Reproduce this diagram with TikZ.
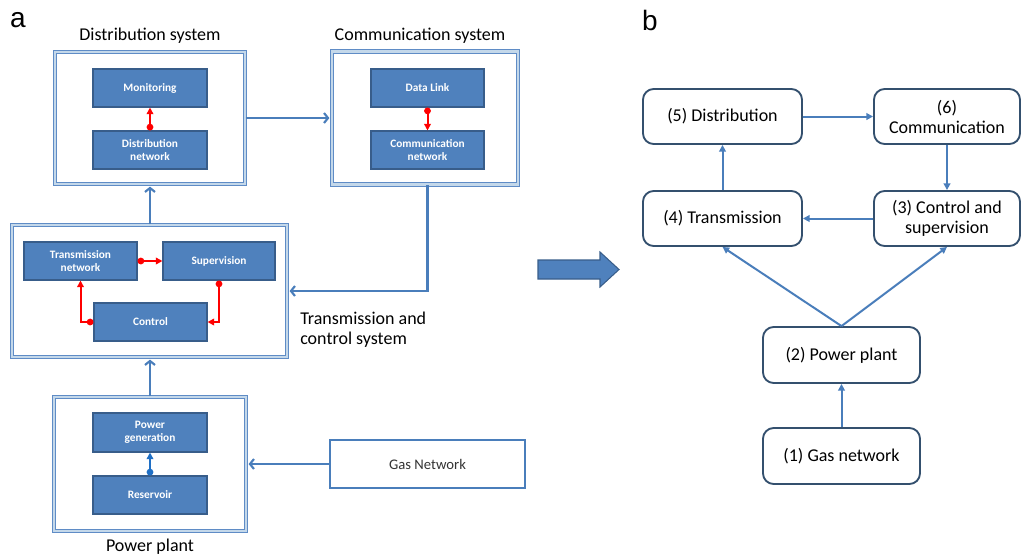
\documentclass[tikz,border=0pt]{standalone}
\usepackage{fontspec}
\setmainfont{Carlito}
\newfontfamily\arialf{Liberation Sans}
\usetikzlibrary{arrows.meta,calc}
\newdimen\px \px=0.75pt
\definecolor{ofblue}{HTML}{4F81BD}
\definecolor{ofdark}{HTML}{385D8A}
\definecolor{frameblue}{HTML}{5F8CC6}
\definecolor{framefill}{HTML}{C4D8EA}
\definecolor{arrblue}{HTML}{4A7EBB}
\definecolor{rbord}{HTML}{34506E}
\definecolor{gasbord}{HTML}{4A7EBB}
\definecolor{darkarr}{HTML}{1F6FC5}
\tikzset{
  inbox/.style={draw=ofdark, fill=ofblue, line width=0.8pt, text=white, font=\fontsize{8.5}{10}\selectfont\bfseries, align=center, inner sep=0pt},
  frame/.style={draw=frameblue, double=framefill, double distance=1.6pt, line width=0.9pt, inner sep=0pt},
  rbox/.style={draw=rbord, line width=1.4pt, rounded corners=8pt, fill=white, font=\fontsize{13.5}{15}\selectfont, align=center, inner sep=0pt},
  barr/.style={draw=arrblue, line width=1.5pt, -{Triangle[length=5pt,width=5pt]}},
  larr/.style={draw=arrblue, line width=2pt, -{Straight Barb[length=3pt,width=7.5pt,line width=1.6pt]}},
  rarr/.style={draw=red, line width=1.5pt, {Circle[length=5pt,width=5pt]}-{Triangle[length=5pt,width=5pt]}},
  title/.style={font=\fontsize{13.5}{15}\selectfont, inner sep=0pt}
}
\begin{document}
\begin{tikzpicture}[x=0.75pt,y=-0.75pt]
\useasboundingbox (0,0) rectangle (1022,558);
% labels
\node[font=\arialf\fontsize{21}{24}\selectfont, inner sep=0pt] (la) at (18,20) {a};
\node[font=\arialf\fontsize{21}{24}\selectfont, inner sep=0pt] (lb) at (650,20) {b};
\node[title] (tdist) at (150,36) {Distribution system};
\node[title] (tcomm) at (420,36) {Communication system};
\node[title] (tpow) at (150,547) {Power plant};
\node[title, align=left, anchor=north west] (ttrans) at (300,312) {Transmission and\\control system};
% outer frames
\node[frame, minimum width=190\px, minimum height=132\px] (dsys) at (150,118) {};
\node[frame, minimum width=186\px, minimum height=133\px] (csys) at (425,118) {};
\node[frame, minimum width=275\px, minimum height=132\px] (tsys) at (149.5,291) {};
\node[frame, minimum width=192\px, minimum height=134\px] (psys) at (150,464) {};
\node[draw=gasbord, line width=2pt, minimum width=195\px, minimum height=48\px, font=\fontsize{11}{13}\selectfont, text=black!80, inner sep=0pt] (gas) at (427.5,464) {Gas Network};
% inner boxes
\node[inbox, minimum width=114\px, minimum height=38\px] (mon) at (150,88) {Monitoring};
\node[inbox, minimum width=114\px, minimum height=38\px] (dnet) at (150,150) {Distribution\\network};
\node[inbox, minimum width=113\px, minimum height=38\px] (dlink) at (427.5,88) {Data Link};
\node[inbox, minimum width=113\px, minimum height=38\px] (cnet) at (427.5,150) {Communication\\network};
\node[inbox, minimum width=113\px, minimum height=38\px] (tnet) at (80.5,261) {Transmission\\network};
\node[inbox, minimum width=112\px, minimum height=38\px] (sup) at (219,261) {Supervision};
\node[inbox, minimum width=113\px, minimum height=38\px] (ctl) at (150.5,322) {Control};
\node[inbox, minimum width=114\px, minimum height=39\px] (pgen) at (150,432.5) {Power\\generation};
\node[inbox, minimum width=114\px, minimum height=38\px] (res) at (150,495) {Reservoir};
% red arrows
\draw[rarr] (dnet.north) -- (mon.south);
\draw[rarr] (dlink.south) -- (cnet.north);
\draw[rarr] (tnet.east) -- (sup.west);
\draw[rarr] (sup.south) |- (ctl.east);
\draw[rarr] (ctl.west) -| (tnet.south);
\draw[draw=darkarr, line width=1.5pt, {Circle[length=5pt,width=5pt]}-{Triangle[length=5pt,width=5pt]}] (res.north) -- (pgen.south);
% blue connectors left
\draw[larr] (dsys.east) -- ([xshift=-1.5pt]dsys.east -| csys.west);
\draw[larr] ([xshift=2pt]csys.south) |- ([xshift=1.5pt]tsys.east);
\draw[larr] (dsys.south |- tsys.north) -- ([yshift=-1.5pt]dsys.south);
\draw[larr] (psys.north) -- ([yshift=-1.5pt]psys.north |- tsys.south);
\draw[larr] (gas.west) -- ([xshift=1.5pt]psys.east);
% big arrow
\draw[fill=ofblue, draw=ofdark, line width=0.8pt] (538,260) -- (600,260) -- (600,252) -- (619,269.5) -- (600,287) -- (600,279) -- (538,279) -- cycle;
% right panel
\node[rbox, minimum width=159\px, minimum height=55\px] (r5) at (722.5,116.5) {(5) Distribution};
\node[rbox, minimum width=146\px, minimum height=55\px] (r6) at (947,116.5) {(6)\\Communication};
\node[rbox, minimum width=159\px, minimum height=55\px] (r4) at (722.5,218.5) {(4) Transmission};
\node[rbox, minimum width=146\px, minimum height=55\px] (r3) at (947,218.5) {(3) Control and\\supervision};
\node[rbox, minimum width=157\px, minimum height=56\px] (r2) at (841.5,355) {(2) Power plant};
\node[rbox, minimum width=157\px, minimum height=56\px] (r1) at (841.5,456) {(1) Gas network};
\draw[barr] (r5.east) -- (r6.west);
\draw[barr] (r6.south) -- (r3.north);
\draw[barr] (r3.west) -- (r4.east);
\draw[barr] (r4.north) -- (r5.south);
\draw[barr] (r2.north) -- (r4.south);
\draw[barr] (r2.north) -- (r3.south);
\draw[barr] (r1.north) -- (r2.south);
\end{tikzpicture}
\end{document}
